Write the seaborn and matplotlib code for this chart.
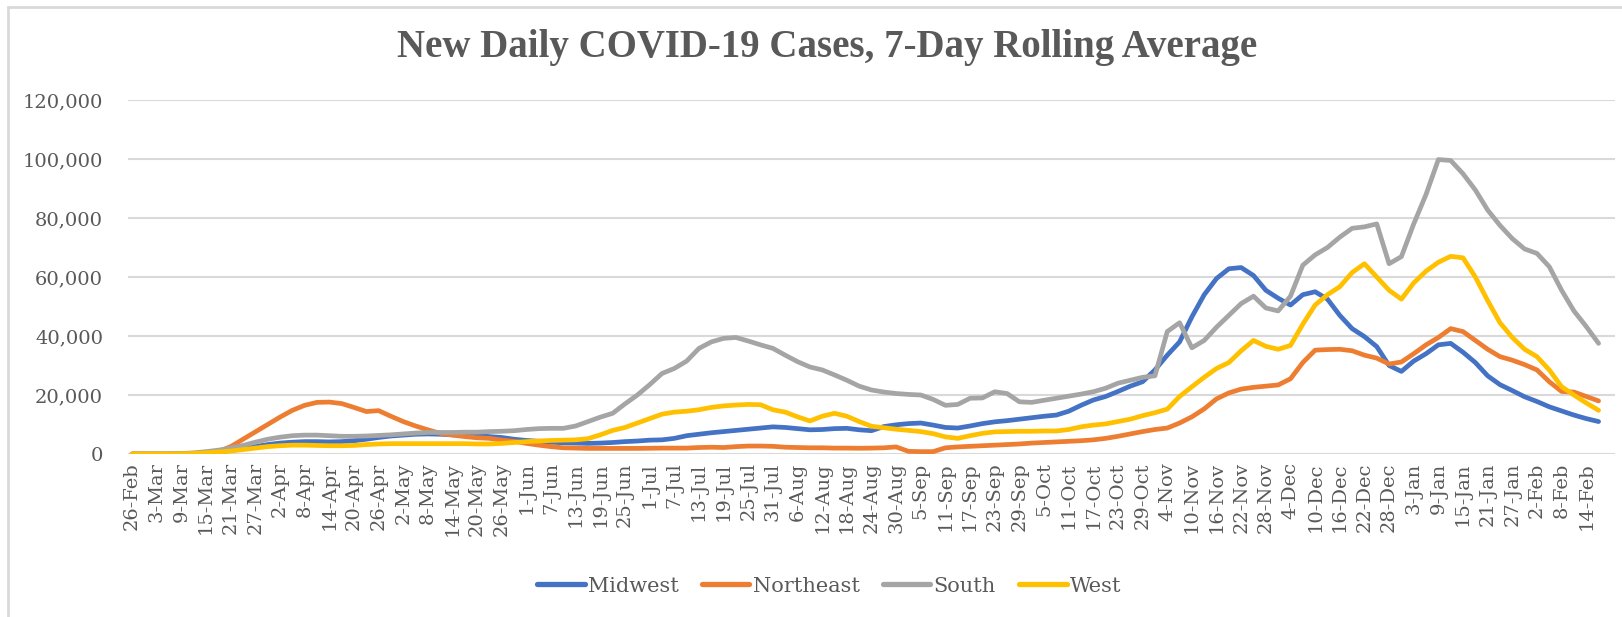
import numpy as np
import pandas as pd
import matplotlib
matplotlib.use("Agg")
import matplotlib.pyplot as plt
import matplotlib.dates as mdates
from matplotlib.ticker import FuncFormatter
import seaborn as sns

# --- DATA (7-day rolling average, sampled every 3 days from 26-Feb-2020) ---
START = "2020-02-26"
STEP_DAYS = 3

midwest = [
    0, 0, 0, 0, 50, 150, 350, 700, 1200, 1800,
    2500, 3200, 3700, 4000, 4200, 4200, 4100, 4200, 4500, 5000,
    5600, 6100, 6400, 6700, 6800, 6700, 6500, 6400, 6200, 5900,
    5600, 5000, 4600, 4300, 4000, 3800, 3700, 3600, 3700, 3900,
    4200, 4400, 4700, 4800, 5300, 6200, 6700, 7200, 7600, 8000,
    8400, 8800, 9200, 9000, 8600, 8200, 8300, 8600, 8700, 8200,
    7900, 9300, 9900, 10300, 10500, 9800, 9000, 8800, 9500, 10300,
    10900, 11300, 11800, 12300, 12800, 13200, 14500, 16500, 18300, 19500,
    21200, 23000, 24500, 28500, 33500, 38000, 46500, 54000, 59500, 62800,
    63200, 60500, 55500, 52800, 50500, 54000, 55000, 52500, 47000, 42500,
    39800, 36400, 30000, 28000, 31500, 34000, 37000, 37500, 34500, 31000,
    26500, 23500, 21500, 19400, 17800, 16000, 14600, 13200, 12000, 11000,
]

northeast = [
    0, 0, 0, 0, 0, 100, 300, 800, 2500, 5000,
    7500, 10000, 12500, 14800, 16500, 17500, 17600, 17100, 15800, 14400,
    14700, 12800, 11000, 9500, 8200, 7000, 6400, 5900, 5500, 5300,
    4700, 4300, 3600, 3000, 2500, 2100, 2000, 1900, 1900, 1900,
    1900, 1900, 1950, 2000, 2000, 2000, 2200, 2300, 2200, 2500,
    2700, 2700, 2600, 2300, 2200, 2100, 2100, 2000, 2000, 1950,
    2000, 2100, 2400, 900, 800, 800, 2100, 2400, 2600, 2800,
    3000, 3200, 3400, 3700, 3900, 4100, 4300, 4500, 4800, 5300,
    6000, 6800, 7600, 8300, 8800, 10500, 12600, 15300, 18700, 20700,
    22000, 22600, 23000, 23400, 25500, 31000, 35200, 35400, 35500, 35000,
    33500, 32500, 30500, 31200, 34000, 37000, 39500, 42500, 41500, 38500,
    35500, 33000, 31800, 30300, 28500, 24500, 21200, 21000, 19500, 18000,
]

south = [
    0, 0, 0, 50, 150, 400, 800, 1300, 2000, 2900,
    4000, 5000, 5700, 6200, 6400, 6400, 6200, 6000, 6000, 6100,
    6300, 6500, 6800, 7100, 7300, 7300, 7300, 7400, 7400, 7600,
    7700, 7900, 8300, 8600, 8700, 8700, 9500, 11000, 12500, 13800,
    17000, 20000, 23500, 27300, 29000, 31500, 35800, 38000, 39200, 39500,
    38300, 37000, 35800, 33500, 31300, 29500, 28500, 26800, 25000, 23000,
    21700, 21000, 20500, 20200, 20000, 18500, 16500, 16800, 18900, 19000,
    21100, 20500, 17700, 17500, 18200, 18900, 19600, 20300, 21100, 22300,
    24000, 25000, 26000, 26500, 41500, 44500, 36000, 38500, 43000, 47000,
    51000, 53500, 49500, 48500, 53500, 64000, 67500, 70000, 73500, 76500,
    77000, 78000, 64500, 66900, 78000, 88000, 99800, 99500, 95000, 89500,
    82700, 77500, 73000, 69500, 68000, 63500, 55500, 48500, 43200, 37500,
]

west = [
    0, 0, 0, 0, 50, 200, 400, 700, 1000, 1500,
    2000, 2500, 2800, 3000, 3000, 2900, 2800, 2800, 2900, 3200,
    3400, 3500, 3500, 3500, 3500, 3500, 3500, 3500, 3400, 3400,
    3600, 3900, 4200, 4400, 4600, 4700, 4800, 5200, 6500, 8000,
    9000, 10500, 12000, 13500, 14200, 14500, 15000, 15800, 16300, 16600,
    16800, 16700, 15000, 14200, 12600, 11200, 12800, 13800, 12800, 11000,
    9400, 8900, 8400, 8000, 7600, 6900, 5800, 5300, 6200, 7000,
    7500, 7600, 7700, 7700, 7800, 7800, 8300, 9200, 9800, 10200,
    11000, 11800, 13000, 14000, 15200, 19500, 22800, 26000, 29000, 31000,
    35000, 38500, 36500, 35500, 36800, 44000, 50500, 54000, 56700, 61500,
    64500, 60000, 55500, 52500, 58000, 62000, 65000, 67000, 66500, 60000,
    52000, 44500, 39500, 35500, 33000, 28500, 22800, 20000, 17300, 14800,
]

regions = ["Midwest", "Northeast", "South", "West"]
colors = {"Midwest": "#4472C4", "Northeast": "#ED7D31", "South": "#A5A5A5", "West": "#FFC000"}

TEXT = "#595959"
GRID = "#D9D9D9"


def build_frame():
    dates = pd.date_range(START, periods=len(midwest), freq=f"{STEP_DAYS}D")
    df = pd.DataFrame({"date": dates, "Midwest": midwest, "Northeast": northeast,
                       "South": south, "West": west})
    return df.melt(id_vars="date", var_name="region", value_name="cases")


def day_label(x, pos=None):
    d = mdates.num2date(x)
    return f"{d.day}-{d.strftime('%b')}"


def main():
    df = build_frame()

    sns.set_theme(style="white")
    plt.rcParams["font.family"] = ["DejaVu Serif"]

    fig = plt.figure(figsize=(16.22, 6.17), dpi=100)
    ax = fig.add_axes([128 / 1622, 1 - 454 / 617, (1615 - 128) / 1622, (454 - 100) / 617])

    sns.lineplot(data=df, x="date", y="cases", hue="region", hue_order=regions,
                 palette=colors, linewidth=3.4, ax=ax, legend=False)

    # axes
    start = pd.Timestamp(START)
    ax.set_xlim(start - pd.Timedelta(days=1), start + pd.Timedelta(days=361))
    ax.set_ylim(0, 120000)
    ax.set_yticks(np.arange(0, 120001, 20000))
    ax.yaxis.set_major_formatter(FuncFormatter(lambda v, p: f"{int(v):,}"))
    ticks = pd.date_range(START, "2021-02-14", freq="6D")
    ax.set_xticks(ticks)
    ax.xaxis.set_major_formatter(FuncFormatter(day_label))
    ax.tick_params(axis="x", rotation=90, labelsize=14, colors=TEXT, length=0, pad=6)
    ax.tick_params(axis="y", labelsize=14, colors=TEXT, length=0, pad=18)
    ax.set_xlabel("")
    ax.set_ylabel("")
    ax.grid(axis="y", color=GRID, linewidth=1.5)
    ax.set_axisbelow(True)
    for s in ax.spines.values():
        s.set_visible(False)

    fig.suptitle("New Daily COVID-19 Cases, 7-Day Rolling Average",
                 x=827 / 1622, y=1 - 47 / 617, va="center",
                 fontsize=28, fontweight="bold", color=TEXT, family="Liberation Serif")

    # legend
    handles = [plt.Line2D([], [], color=colors[r], linewidth=3.8) for r in regions]
    fig.legend(handles, regions, loc="center", bbox_to_anchor=(829 / 1622, 1 - 586 / 617),
               ncol=4, frameon=False, fontsize=15, labelcolor=TEXT,
               handlelength=2.3, columnspacing=1.1, handletextpad=0.15)

    # chart frame (left and top edges visible)
    fig.patches.append(plt.Rectangle((8 / 1622, -0.1), 1.2, 1 - 7 / 617 + 0.1,
                                     transform=fig.transFigure, fill=False,
                                     edgecolor=GRID, linewidth=2))

    fig.savefig("out.png", dpi=100)


if __name__ == "__main__":
    main()
